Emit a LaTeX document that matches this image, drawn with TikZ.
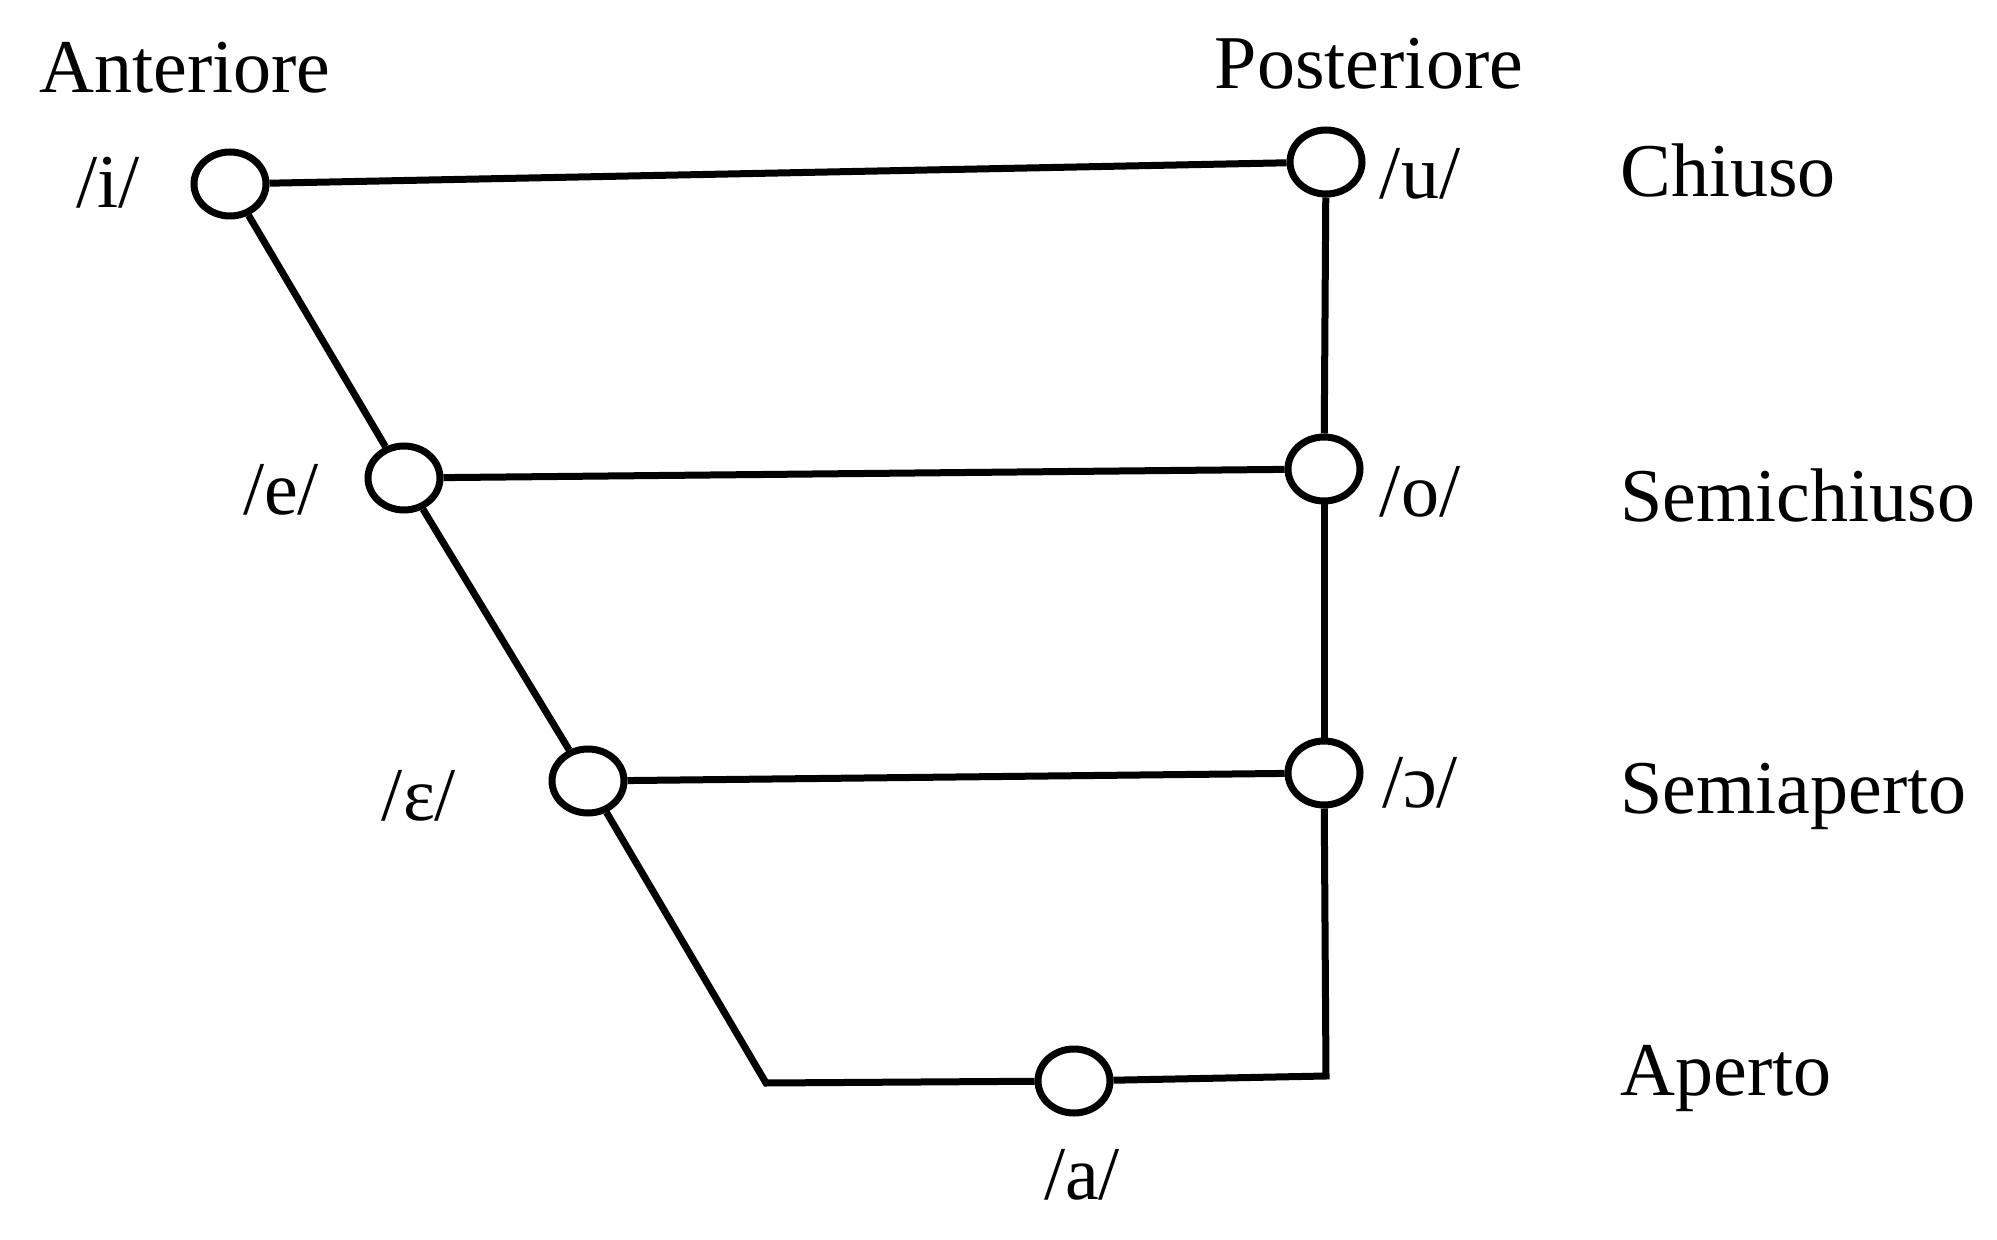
\documentclass[tikz,border=0pt]{standalone}
\usepackage{fontspec}
\usetikzlibrary{shapes.geometric}
\setmainfont{Liberation Serif}
\begin{document}
\begin{tikzpicture}[x=0.5pt,y=-0.5pt,
  vowel/.style={draw,line width=3.5pt,ellipse,minimum width=36pt,minimum height=32pt,inner sep=0pt},
  conn/.style={line width=3.5pt,line join=miter},
  lbl/.style={inner sep=0pt,font=\fontsize{38}{40}\selectfont},
  ]
\useasboundingbox (0,0) rectangle (1997,1240);
% vowel nodes
\node[vowel] (i) at (230,184) {};
\node[vowel] (u) at (1326,162) {};
\node[vowel] (e) at (404,478) {};
\node[vowel] (o) at (1324,469) {};
\node[vowel] (eps) at (588,781) {};
\node[vowel] (oo) at (1324,773) {};
\node[vowel] (a) at (1074,1081) {};
\coordinate (bl) at (766,1083);
\coordinate (br) at (1326,1076);
% connectors
\draw[conn] (i) -- (u);
\draw[conn] (e) -- (o);
\draw[conn] (eps) -- (oo);
\draw[conn] (i) -- (e);
\draw[conn] (e) -- (eps);
\draw[conn] (eps) -- (bl) -- (a);
\draw[conn] (a) -- (br) -- (oo);
\draw[conn] (oo) -- (o);
\draw[conn] (o) -- (u);
% headings
\node[lbl,anchor=base] (ant) at (185,93) {Anteriore};
\node[lbl,anchor=base] (post) at (1369,89) {Posteriore};
% vowel labels
\node[lbl] (li) at (108,183) {/i/};
\node[lbl] (lu) at (1420,174) {/u/};
\node[lbl] (le) at (281,490) {/e/};
\node[lbl] (lo) at (1420,492) {/o/};
\node[lbl] (leps) at (419,796) {/ɛ/};
\node[lbl] (loo) at (1420,783) {/ɔ/};
\node[lbl] (la) at (1082,1175) {/a/};
% row labels
\node[lbl,anchor=base west] (r1) at (1620,197) {Chiuso};
\node[lbl,anchor=base west] (r2) at (1620,522) {Semichiuso};
\node[lbl,anchor=base west] (r3) at (1620,813) {Semiaperto};
\node[lbl,anchor=base west] (r4) at (1620,1095) {Aperto};
\end{tikzpicture}
\end{document}
